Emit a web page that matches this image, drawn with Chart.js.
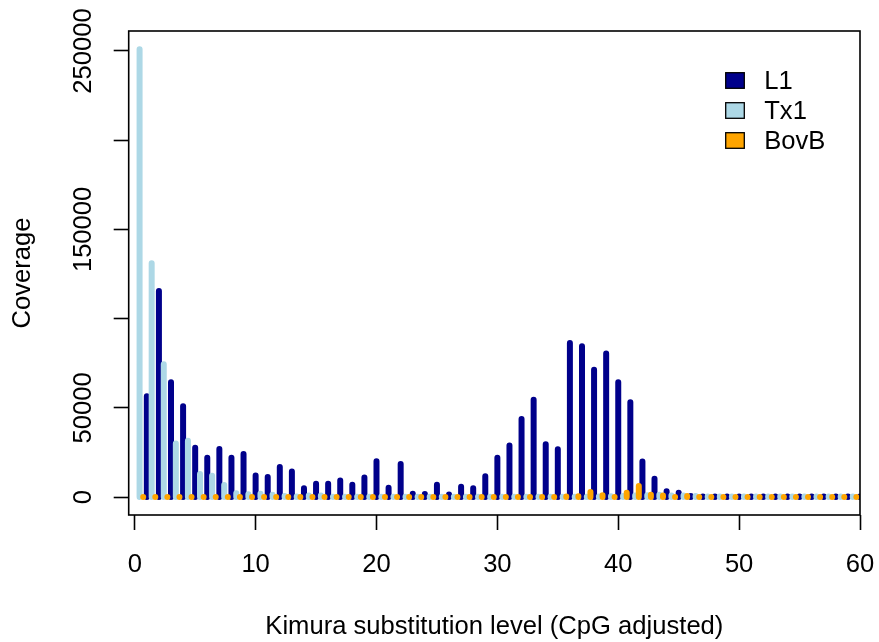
<!DOCTYPE html>
<html>
<head>
<meta charset="utf-8">
<title>Repeat landscape</title>
<script src="https://cdn.jsdelivr.net/npm/chart.js@4.4.1/dist/chart.umd.min.js"></script>
<style>
  html, body { margin: 0; padding: 0; background: #ffffff; }
  #wrap { width: 879px; height: 642px; }
</style>
</head>
<body>
<div id="wrap"><canvas id="landscape" width="879" height="642"></canvas></div>
<script>
// Kimura divergence bins (percent, CpG adjusted)
const divergence = [
  1, 2, 3, 4, 5, 6, 7, 8, 9, 10,
  11, 12, 13, 14, 15, 16, 17, 18, 19, 20,
  21, 22, 23, 24, 25, 26, 27, 28, 29, 30,
  31, 32, 33, 34, 35, 36, 37, 38, 39, 40,
  41, 42, 43, 44, 45, 46, 47, 48, 49, 50,
  51, 52, 53, 54, 55, 56, 57, 58, 59, 60
];

// Coverage (bp) per divergence bin for each repeat family
const l1Coverage = [
  56500, 115500, 64300, 50900, 27600, 22000, 27000, 22000, 24200, 12100,
  11200, 16800, 14400, 5000, 7400, 7400, 9300, 6900, 11000, 20100,
  5200, 18600, 1900, 1700, 6900, 1500, 5800, 5000, 11600, 22100,
  28900, 43800, 54600, 29600, 26800, 86300, 84500, 71400, 80500, 64300,
  53100, 20000, 10200, 3200, 2400, 600, 300, 300, 300, 300,
  300, 300, 300, 300, 300, 300, 300, 300, 300, 300
];
const tx1Coverage = [
  251000, 131000, 74500, 30000, 31500, 13000, 12000, 6700, 2200, 1600,
  1900, 1300, 600, 300, 950, 950, 250, 200, 200, 200,
  200, 200, 200, 200, 200, 200, 200, 200, 200, 200,
  200, 200, 200, 200, 200, 200, 200, 200, 300, 400,
  600, 950, 1000, 1300, 900, 900, 600, 300, 300, 300,
  300, 300, 300, 300, 300, 300, 300, 300, 300, 300
];
const bovbCoverage = [
  0, 0, 0, 0, 0, 0, 0, 0, 0, 0,
  0, 0, 0, 0, 0, 0, 0, 0, 0, 0,
  0, 0, 0, 0, 0, 0, 0, 0, 0, 0,
  0, 0, 0, 0, 0, 350, 450, 2800, 1000, 0,
  2400, 6200, 1300, 950, 0, 550, 0, 0, 0, 0,
  0, 0, 0, 0, 0, 0, 0, 0, 0, 0
];

const familyNames = ['L1', 'Tx1', 'BovB'];

// Axis ticks
const xTickValues = [0, 10, 20, 30, 40, 50, 60];
const yTickValues = [0, 50000, 100000, 150000, 200000, 250000];
const yTickLabels = ['0', '50000', '', '150000', '', '250000'];

// Each family is drawn as vertical stems, shifted sideways so they sit next to each other
const STEM_SHIFT = { L1: 0, Tx1: -0.6, BovB: -0.3 };

function stems(values, shift) {
  const pts = [];
  values.forEach((v, i) => {
    const x = divergence[i] + shift;
    pts.push({ x: x, y: 0 }, { x: x, y: v }, { x: x, y: null });
  });
  return pts;
}

const FONT = 'Liberation Sans, Arial, Helvetica, sans-serif';
const FONT_SIZE = 25.6;

// Box around the plotting region
const frameBox = {
  id: 'frameBox',
  afterDraw(chart) {
    const { ctx, chartArea: a } = chart;
    ctx.save();
    ctx.strokeStyle = '#000000';
    ctx.lineWidth = 1.6;
    ctx.strokeRect(a.left, a.top, a.right - a.left, a.bottom - a.top);
    ctx.restore();
  }
};

// Filled-square key in the upper right of the plotting region
const familyKey = {
  id: 'familyKey',
  afterDraw(chart) {
    const { ctx, chartArea: a } = chart;
    const left = a.right - 134.3;
    const top = a.top + 41.7;
    const w = 18.6, h = 15.6, rowGap = 30;
    ctx.save();
    ctx.font = FONT_SIZE + 'px ' + FONT;
    ctx.textBaseline = 'middle';
    ctx.textAlign = 'left';
    chart.data.datasets.forEach((ds, i) => {
      const y = top + i * rowGap;
      ctx.fillStyle = ds.borderColor;
      ctx.fillRect(left, y, w, h);
      ctx.strokeStyle = '#000000';
      ctx.lineWidth = 1.3;
      ctx.strokeRect(left, y, w, h);
      ctx.fillStyle = '#000000';
      ctx.fillText(ds.label, left + 38.5, y + h / 2 + 1);
    });
    ctx.restore();
  }
};

const stemStyle = {
  showLine: true,
  spanGaps: false,
  fill: false,
  pointRadius: 0,
  pointHoverRadius: 0,
  borderWidth: 6,
  borderCapStyle: 'round',
  borderJoinStyle: 'round',
  tension: 0,
  clip: 0
};

new Chart(document.getElementById('landscape'), {
  type: 'line',
  data: {
    datasets: [
      Object.assign({ label: familyNames[0], data: stems(l1Coverage, STEM_SHIFT.L1), borderColor: '#00008B', backgroundColor: '#00008B', order: 2 }, stemStyle),
      Object.assign({ label: familyNames[1], data: stems(tx1Coverage, STEM_SHIFT.Tx1), borderColor: '#ADD8E6', backgroundColor: '#ADD8E6', order: 1 }, stemStyle),
      Object.assign({ label: familyNames[2], data: stems(bovbCoverage, STEM_SHIFT.BovB), borderColor: '#FFA500', backgroundColor: '#FFA500', order: 0 }, stemStyle)
    ]
  },
  options: {
    responsive: false,
    devicePixelRatio: 1,
    animation: false,
    events: [],
    layout: { padding: { left: 0, right: 19, top: 31, bottom: 0 } },
    plugins: {
      legend: { display: false },
      tooltip: { enabled: false },
      title: { display: false }
    },
    scales: {
      x: {
        type: 'linear',
        min: -0.5,
        max: 60,
        afterBuildTicks(scale) { scale.ticks = xTickValues.map(v => ({ value: v })); },
        afterFit(scale) {
          scale.height = 127;
          scale.paddingLeft = 0;
          scale.paddingRight = 0;
        },
        ticks: {
          color: '#000000',
          font: { family: FONT, size: FONT_SIZE },
          padding: 20,
          maxRotation: 0,
          minRotation: 0,
          autoSkip: false,
          callback: (v) => String(v)
        },
        grid: { display: true, drawOnChartArea: false, drawTicks: true, tickLength: 15, tickColor: '#000000', tickWidth: 1.6 },
        border: { display: false },
        title: {
          display: true,
          text: 'Kimura substitution level (CpG adjusted)',
          color: '#000000',
          font: { family: FONT, size: FONT_SIZE },
          padding: { top: 0, bottom: 0 }
        }
      },
      y: {
        type: 'linear',
        min: -10046,
        max: 261186,
        afterBuildTicks(scale) { scale.ticks = yTickValues.map(v => ({ value: v })); },
        afterFit(scale) {
          scale.width = 128.7;
          scale.paddingTop = 0;
          scale.paddingBottom = 0;
        },
        ticks: {
          color: '#000000',
          font: { family: FONT, size: FONT_SIZE },
          minRotation: 90,
          maxRotation: 90,
          crossAlign: 'center',
          padding: -13,
          autoSkip: false,
          callback: (v) => yTickLabels[yTickValues.indexOf(v)]
        },
        grid: { display: true, drawOnChartArea: false, drawTicks: true, tickLength: 15, tickColor: '#000000', tickWidth: 1.6 },
        border: { display: false },
        title: {
          display: true,
          text: 'Coverage',
          color: '#000000',
          font: { family: FONT, size: FONT_SIZE },
          padding: { top: 8, bottom: 0 }
        }
      }
    }
  },
  plugins: [frameBox, familyKey]
});
</script>
</body>
</html>
